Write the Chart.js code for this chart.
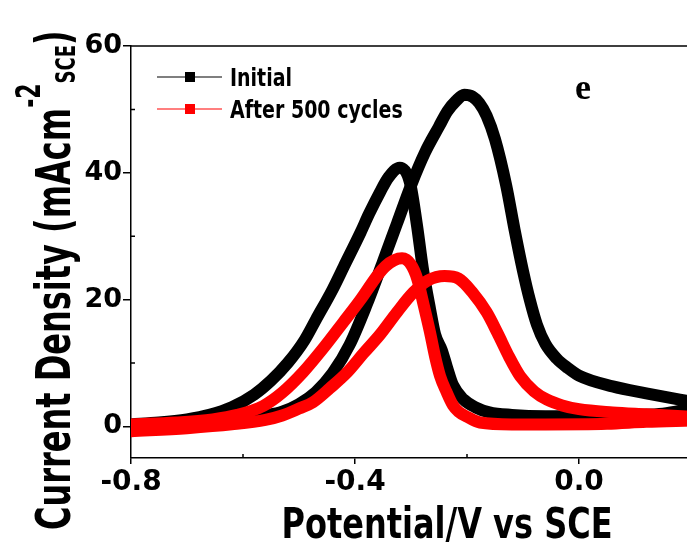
<!DOCTYPE html>
<html lang="en">
<head>
<meta charset="UTF-8">
<title>Current Density vs Potential</title>
<script src="https://cdn.jsdelivr.net/npm/chart.js"></script>
<style>
  html, body { margin: 0; padding: 0; background: #fff; overflow: hidden; }
  canvas { display: block; }
</style>
</head>
<body>
<canvas id="cvChart" width="700" height="547"></canvas>
<script>
// values: potential (V vs SCE), current density (mA cm-2)
// forward scan goes -0.8 -> 0.2, reverse scan 0.2 -> -0.8
const seriesLabels = ['Initial', 'After 500 cycles'];
const seriesColors = ['#000000', '#ff0000'];

const initialFwdV = [-0.80, -0.70, -0.62, -0.56, -0.53, -0.50, -0.47, -0.44, -0.41, -0.38, -0.35, -0.325, -0.30, -0.275, -0.25, -0.235, -0.22, -0.205, -0.19, -0.178, -0.165, -0.15, -0.13, -0.115, -0.10, -0.088, -0.075, -0.06, -0.04, -0.02, 0.00, 0.06, 0.12, 0.18, 0.20];
const initialFwdI = [-0.3, 0.3, 0.8, 1.7, 2.3, 3.5, 5.4, 8.4, 12.8, 19, 26, 32, 38, 43.2, 47.3, 49.7, 51.3, 52.3, 52.0, 51.0, 49.0, 45.3, 38, 31, 24.5, 20, 16, 13, 10.7, 9.2, 8.0, 6.3, 5.2, 4.2, 3.9];
const initialRevV = [0.20, 0.15, 0.10, 0.05, 0.00, -0.06, -0.12, -0.16, -0.185, -0.207, -0.225, -0.236, -0.245, -0.257, -0.266, -0.279, -0.289, -0.302, -0.32, -0.34, -0.355, -0.375, -0.39, -0.42, -0.44, -0.47, -0.49, -0.52, -0.55, -0.58, -0.62, -0.66, -0.70, -0.75, -0.80];
const initialRevI = [2.8, 2.0, 1.8, 1.7, 1.6, 1.6, 1.8, 2.2, 3.0, 4.3, 6.5, 9.4, 12, 14.5, 18.5, 25, 31.5, 38.5, 40.8, 39.3, 37, 33.5, 30.6, 25.2, 21.6, 16.8, 13.6, 10, 7.2, 5.0, 3.0, 1.8, 1.1, 0.6, 0.3];

const cycledFwdV = [-0.80, -0.70, -0.62, -0.56, -0.53, -0.50, -0.475, -0.445, -0.414, -0.385, -0.355, -0.325, -0.296, -0.27, -0.24, -0.215, -0.19, -0.165, -0.146, -0.125, -0.105, -0.08, -0.057, -0.03, 0.00, 0.06, 0.12, 0.20];
const cycledFwdI = [-0.8, -0.3, 0.3, 1.0, 1.7, 2.8, 3.8, 6, 8.5, 11.5, 14.5, 18, 21.1, 23, 23.7, 23.3, 21.1, 18, 14.8, 11, 7.9, 5.5, 4.2, 3.3, 2.7, 2.2, 1.9, 1.5];
const cycledRevV = [0.20, 0.12, 0.05, -0.06, -0.12, -0.177, -0.20, -0.215, -0.225, -0.237, -0.248, -0.257, -0.266, -0.277, -0.289, -0.30, -0.316, -0.33, -0.345, -0.36, -0.39, -0.421, -0.455, -0.493, -0.53, -0.564, -0.61, -0.654, -0.72, -0.80];
const cycledRevI = [0.9, 0.7, 0.4, 0.3, 0.3, 0.6, 1.5, 2.3, 3.3, 5.5, 7.9, 11, 14.8, 19, 23.3, 25.5, 26.5, 26.2, 25.3, 23.8, 20, 16.4, 12.5, 8.5, 5.3, 3.2, 1.8, 1.1, 0.6, 0.3];

const xTicks = [-0.8, -0.4, 0.0];
const xMinorTicks = [-0.6, -0.2, 0.2];
const yTicks = [0, 20, 40, 60];
const yMinorTicks = [10, 30, 50];

function branch(vs, is) {
    const pts = vs.map((v, k) => ({ x: v, y: is[k] }));
    return pts.sort((a, b) => a.x - b.x);
}

function scanDataset(label, color, vs, is, order) {
    return {
        label: label,
        data: branch(vs, is),
        borderColor: color,
        order: order
    };
}

const font = '"DejaVu Sans", sans-serif';

// titles, legend, panel letter, minor ticks and top frame line
const decorations = {
    id: 'decorations',
    afterDraw(chart) {
        const ctx = chart.ctx;
        const area = chart.chartArea;
        const xs = chart.scales.x, ys = chart.scales.y;
        ctx.save();
        ctx.strokeStyle = '#000';
        ctx.fillStyle = '#000';
        ctx.lineWidth = 1.5;

        ctx.beginPath();
        ctx.moveTo(area.left, area.top);
        ctx.lineTo(chart.width, area.top);
        xMinorTicks.forEach(v => {
            const px = xs.getPixelForValue(v);
            ctx.moveTo(px, area.bottom);
            ctx.lineTo(px, area.bottom - 4);
        });
        yMinorTicks.forEach(v => {
            const py = ys.getPixelForValue(v);
            ctx.moveTo(area.left, py);
            ctx.lineTo(area.left + 4, py);
        });
        ctx.stroke();

        // x title
        ctx.save();
        ctx.font = 'bold 32px ' + font;
        ctx.textAlign = 'center';
        ctx.textBaseline = 'alphabetic';
        ctx.translate(447, 538);
        ctx.scale(1, 1.35);
        ctx.fillText('Potential/V vs SCE', 0, 0);
        ctx.restore();

        // y title with superscript and subscript
        ctx.save();
        ctx.translate(70, 530);
        ctx.rotate(-Math.PI / 2);
        ctx.scale(1, 1.5);
        ctx.textAlign = 'left';
        ctx.textBaseline = 'alphabetic';
        let cx = 0;
        const parts = [
            ['Current Density (mAcm', 'bold 32px ' + font, 0],
            ['-2', 'bold 22px ' + font, -20],
            ['SCE', 'bold 18px ' + font, 3],
            [')', 'bold 32px ' + font, 0]
        ];
        parts.forEach(p => {
            ctx.font = p[1];
            ctx.fillText(p[0], cx, p[2]);
            cx += ctx.measureText(p[0]).width;
        });
        ctx.restore();

        // legend
        const rows = [77, 109];
        rows.forEach((y, k) => {
            ctx.strokeStyle = seriesColors[k];
            ctx.fillStyle = seriesColors[k];
            ctx.lineWidth = 1.2;
            ctx.beginPath();
            ctx.moveTo(157, y);
            ctx.lineTo(222, y);
            ctx.stroke();
            ctx.fillRect(185, y - 5, 10, 10);
            ctx.save();
            ctx.fillStyle = '#000';
            ctx.font = 'bold 19px ' + font;
            ctx.textAlign = 'left';
            ctx.translate(230, y + 9);
            ctx.scale(1, 1.3);
            ctx.fillText(seriesLabels[k], 0, 0);
            ctx.restore();
        });

        // panel letter
        ctx.fillStyle = '#000';
        ctx.font = 'bold 36px "Liberation Serif", serif';
        ctx.textAlign = 'left';
        ctx.fillText('e', 575, 99);
        ctx.restore();
    }
};

const ctx = document.getElementById('cvChart').getContext('2d');
new Chart(ctx, {
    type: 'scatter',
    data: {
        datasets: [
            scanDataset(seriesLabels[0], seriesColors[0], initialFwdV, initialFwdI, 2),
            scanDataset(seriesLabels[0], seriesColors[0], initialRevV, initialRevI, 2),
            scanDataset(seriesLabels[1], seriesColors[1], cycledFwdV, cycledFwdI, 1),
            scanDataset(seriesLabels[1], seriesColors[1], cycledRevV, cycledRevI, 1)
        ]
    },
    options: {
        responsive: false,
        animation: false,
        showLine: true,
        layout: { padding: { top: 46, right: 9, left: 0, bottom: 0 } },
        elements: {
            line: { borderWidth: 12, cubicInterpolationMode: 'monotone', borderCapStyle: 'round', borderJoinStyle: 'round' },
            point: { radius: 0, hoverRadius: 0 }
        },
        datasets: { scatter: { clip: 0 } },
        plugins: {
            legend: { display: false },
            tooltip: { enabled: false }
        },
        scales: {
            x: {
                type: 'linear',
                min: -0.8,
                max: 0.2,
                afterBuildTicks: s => { s.ticks = xTicks.map(v => ({ value: v })); },
                afterFit: s => { s.height = 89; },
                border: { color: '#000', width: 1.5 },
                grid: { drawOnChartArea: false, tickLength: 6, color: '#000', lineWidth: 1.5 },
                ticks: {
                    color: '#000',
                    padding: 2,
                    maxRotation: 0,
                    font: { family: 'DejaVu Sans', size: 28, weight: 'bold' },
                    callback: v => v.toFixed(1)
                }
            },
            y: {
                type: 'linear',
                min: -5,
                max: 60,
                afterBuildTicks: s => { s.ticks = yTicks.map(v => ({ value: v })); },
                afterFit: s => { s.width = 131; },
                border: { color: '#000', width: 1.5 },
                grid: { drawOnChartArea: false, tickLength: 8, color: '#000', lineWidth: 1.5 },
                ticks: {
                    color: '#000',
                    padding: 1,
                    font: { family: 'DejaVu Sans', size: 27, weight: 'bold' }
                }
            }
        }
    },
    plugins: [decorations]
});
</script>
</body>
</html>
